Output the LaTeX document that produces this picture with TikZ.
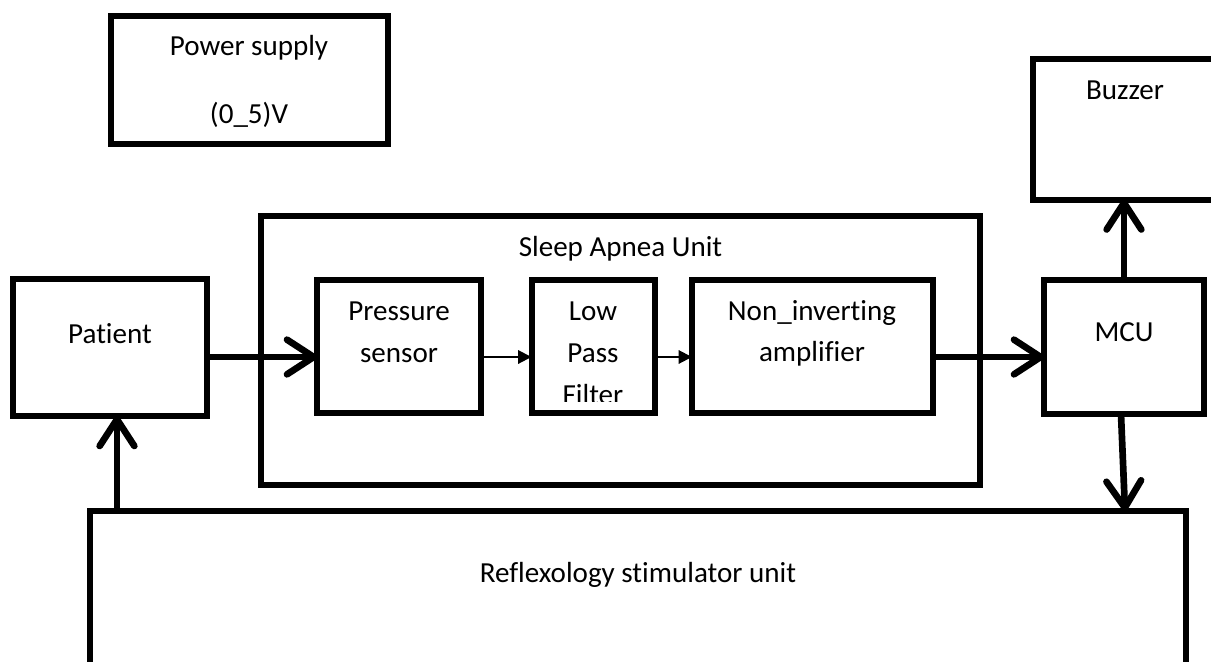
\documentclass[tikz,border=0pt]{standalone}
\usepackage{fontspec}
\setmainfont{Carlito}[Ligatures=NoCommon]
\usetikzlibrary{arrows.meta,fit,calc}
\begin{document}
\begin{tikzpicture}[x=0.75pt,y=-0.75pt,
  box/.style={draw, line width=4.5pt, inner sep=0pt, outer sep=0pt},
  lbl/.style={font=\fontsize{21.8pt}{26pt}\selectfont, inner sep=0pt, anchor=base},
  bigarrow/.style={line width=5pt, -{Straight Barb[length=20pt,width=26pt,round]}},
  smallarrow/.style={line width=1.5pt, -{Triangle[length=10pt,width=10pt]}}]
\useasboundingbox (0,0) rectangle (1211,661);
\clip (0,0) rectangle (1211,661);
% boxes
\node[box, fit={(110.5,15.5) (387.5,144)}] (power) {};
\node[box, fit={(1033,58.5) (1220,199.5)}] (buzzer) {};
\node[box, fit={(261,215.5) (980,484.5)}] (sleep) {};
\node[box, fit={(13,279) (207,416)}] (patient) {};
\node[box, fit={(317,280) (481,413)}] (pressure) {};
\node[box, fit={(531.5,280) (654.5,413)}] (lpf) {};
\node[box, fit={(692,280) (932.5,413)}] (amp) {};
\node[box, fit={(1044,280) (1204,414)}] (mcu) {};
\node[box, fit={(90,511) (1185.5,670)}] (reflex) {};
% labels
\node[lbl] (tpower1) at (249,55) {Power supply};
\node[lbl] (tpower2) at (249,123) {(0\_5)V};
\node[lbl] (tbuzzer) at (1125,99) {Buzzer};
\node[lbl] (tsleep) at (620.5,256) {Sleep Apnea Unit};
\node[lbl] (tpatient) at (110,343) {Patient};
\node[lbl] (tpress1) at (399,320) {Pressure};
\node[lbl] (tpress2) at (399,362) {sensor};
\node[lbl] (tlpf1) at (593,320) {Low};
\node[lbl] (tlpf2) at (593,362) {Pass};
\begin{scope}
\clip (535,283) rectangle (651,401);
\node[lbl] (tlpf3) at (593,404) {Filter};
\end{scope}
\node[lbl] (tamp1) at (812,320) {Non\_inverting};
\node[lbl] (tamp2) at (812,361) {amplifier};
\node[lbl] (tmcu) at (1124,341) {MCU};
\node[lbl] (treflex) at (638,582) {Reflexology stimulator unit};
% connectors
\coordinate (row) at (0,357);
\coordinate (col) at (117,0);
\draw[bigarrow] (patient.east |- row) -- (pressure.west |- row);
\draw[smallarrow] (pressure.east |- row) -- (lpf.west |- row);
\draw[smallarrow] (lpf.east |- row) -- (amp.west |- row);
\draw[bigarrow] (amp.east |- row) -- (mcu.west |- row);
\draw[bigarrow] (mcu.north) -- (mcu.north |- buzzer.south);
\draw[bigarrow] ($(mcu.south)+(-3,0)$) -- ($(mcu.south |- reflex.north)+(1,0)$);
\draw[bigarrow] (col |- reflex.north) -- (col |- patient.south);
\end{tikzpicture}
\end{document}
